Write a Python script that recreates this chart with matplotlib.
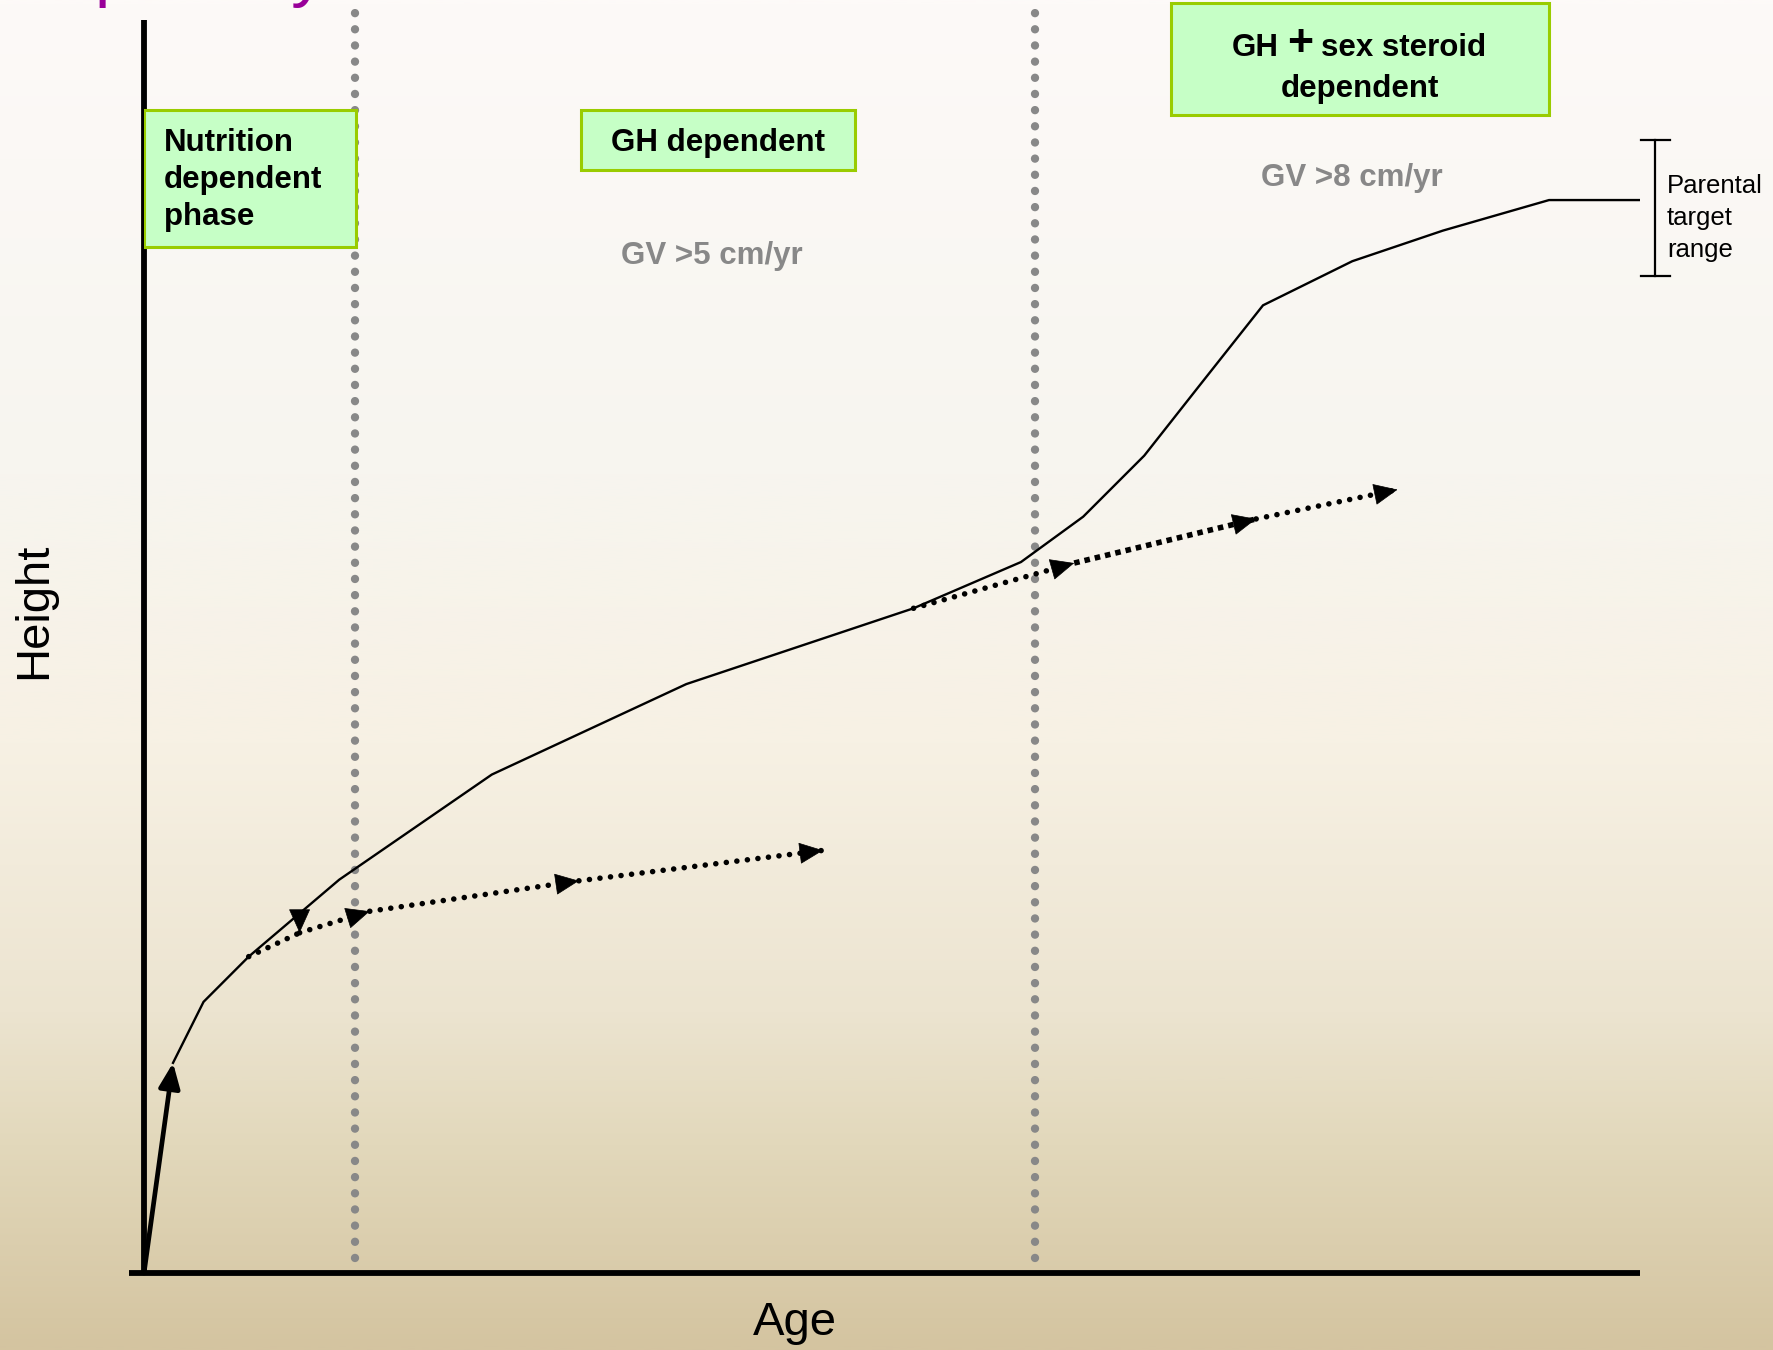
import numpy as np
import matplotlib.pyplot as plt
from matplotlib.colors import LinearSegmentedColormap
from matplotlib.patches import Rectangle

plt.rcParams['font.family'] = ['Liberation Sans', 'DejaVu Sans']

# ---------- Data (schematic units: age 0-100, height 0-100) ----------
curve_age = [1.94, 3.98, 7.0, 13.05, 23.25, 36.25, 51.44, 58.62, 62.78, 66.86,
             70.49, 74.80, 80.77, 86.82, 93.92, 99.97]
curve_height = [16.77, 21.64, 25.25, 31.39, 39.78, 47.0, 53.05, 56.74, 60.36, 65.23,
                70.73, 77.23, 80.75, 83.19, 85.63, 85.63]

# early (infant) velocity, drawn as a solid arrow from the origin
infant_age = [0.0, 1.94]
infant_height = [0.0, 16.77]

# projected growth without the next phase (dotted arrows)
proj1_age = [7.0, 10.40, 15.09, 29.07, 45.39]
proj1_height = [25.25, 27.15, 28.87, 31.30, 33.73]
proj2_age = [51.44, 62.18, 74.34, 83.79]
proj2_height = [53.05, 56.66, 60.18, 62.52]

phase_bounds = [14.1, 59.53]

box_labels = ['Nutrition\ndependent\nphase', 'GH dependent']
velocity_labels = ['GV >5 cm/yr', 'GV >8 cm/yr']
target_range = [79.57, 90.42]

# ---------- Figure ----------
fig = plt.figure(figsize=(17.73, 13.5), dpi=100)

# background gradient
bg = fig.add_axes([0, 0, 1, 1])
stops = [(0.0, '#fdfaf8'), (0.35, '#f7f5ef'), (0.55, '#f7f1e4'),
         (0.75, '#ece4d0'), (0.85, '#e2d8bb'), (1.0, '#d4c4a0')]
cmap = LinearSegmentedColormap.from_list('bg', stops)
bg.imshow(np.linspace(0, 1, 512).reshape(-1, 1), cmap=cmap, aspect='auto',
          extent=[0, 1, 1, 0])
bg.set_xlim(0, 1)
bg.set_ylim(1, 0)
bg.axis('off')

W, H = 1773, 1350
ax = fig.add_axes([144 / W, (H - 1273) / H, 1496 / W, 1253 / H])
ax.patch.set_alpha(0)
ax.set_xlim(0, 100)
ax.set_ylim(0, 100)
ax.axis('off')

# axes lines
ax.plot([0, 0], [0, 100], color='black', lw=4.2, solid_capstyle='butt', clip_on=False)
ax.plot([-1.0, 100], [0, 0], color='black', lw=4.2, solid_capstyle='butt', clip_on=False)

# phase boundaries
for xb in phase_bounds:
    ax.plot([xb, xb], [1.2, 101.6], color='#888888', lw=6,
            linestyle=(0, (0.01, 1.93)), dash_capstyle='round', clip_on=False)

# growth curve
ax.plot(curve_age, curve_height, color='black', lw=1.7, solid_joinstyle='miter')
ax.annotate('', xy=(infant_age[1], infant_height[1]), xytext=(infant_age[0], infant_height[0]),
            arrowprops=dict(arrowstyle='-|>,head_length=0.75,head_width=0.32', lw=3.4,
                            color='black', shrinkA=0, shrinkB=0, mutation_scale=20))


def dotted_arrow(xs, ys, square_segs=(), down_heads=()):
    for i in range(len(xs) - 1):
        if i in square_segs:
            ax.plot(xs[i:i + 2], ys[i:i + 2], color='black', lw=4,
                    linestyle=(0, (1.0, 0.9)), dash_capstyle='butt')
        else:
            ax.plot(xs[i:i + 2], ys[i:i + 2], color='black', lw=4,
                    linestyle=(0, (0.01, 1.9)), dash_capstyle='round')
        tip = (xs[i + 1], ys[i + 1])
        if i + 1 in down_heads:
            tail = (tip[0], tip[1] + 0.05)
        else:
            tail = (tip[0] - 0.02 * (xs[i + 1] - xs[i]), tip[1] - 0.02 * (ys[i + 1] - ys[i]))
        ax.annotate('', xy=tip, xytext=tail,
                    arrowprops=dict(arrowstyle='-|>,head_length=0.8,head_width=0.36',
                                    lw=0.5, color='black', shrinkA=0, shrinkB=0,
                                    mutation_scale=20))


dotted_arrow(proj1_age, proj1_height, down_heads=(1,))
dotted_arrow(proj2_age, proj2_height, square_segs=(1,))

# phase boxes
box_face, box_edge = '#c6ffc6', '#99cc00'
ax.add_patch(Rectangle((0.0, 81.92), 14.18, 10.92, facecolor=box_face,
                       edgecolor=box_edge, lw=2.2, zorder=3))
ax.add_patch(Rectangle((29.21, 88.06), 18.30, 4.78, facecolor=box_face,
                       edgecolor=box_edge, lw=2.2, zorder=3))
ax.add_patch(Rectangle((68.68, 92.39), 25.24, 8.93, facecolor=box_face,
                       edgecolor=box_edge, lw=2.2, zorder=3, clip_on=False))

ax.text(1.34, 87.2, box_labels[0], fontsize=22.5, fontweight='bold', ha='left',
        va='center', linespacing=1.3, zorder=4)
ax.text(38.4, 90.2, box_labels[1], fontsize=22.5, fontweight='bold', ha='center',
        va='center', zorder=4)
ax.text(75.86, 97.73, 'GH', fontsize=22.5, fontweight='bold', ha='right', va='center',
        zorder=4, clip_on=False)
ax.text(77.27, 98.05, '+', fontsize=32, fontweight='bold', ha='center', va='center',
        zorder=4, clip_on=False)
ax.text(78.66, 97.73, 'sex steroid', fontsize=22.5, fontweight='bold', ha='left',
        va='center', zorder=4, clip_on=False)
ax.text(81.28, 94.53, 'dependent', fontsize=22.5, fontweight='bold', ha='center',
        va='center', zorder=4)

# growth velocity notes
ax.text(37.97, 81.13, velocity_labels[0], fontsize=22.5, fontweight='bold',
        color='#888888', ha='center', va='center')
ax.text(80.75, 87.43, velocity_labels[1], fontsize=22.5, fontweight='bold',
        color='#888888', ha='center', va='center')

# parental target range bracket
ax.plot([101.0, 101.0], target_range, color='black', lw=1.6, clip_on=False)
for yb in target_range:
    ax.plot([100.04, 102.0], [yb, yb], color='black', lw=1.6, clip_on=False)
ax.text(101.8, 84.2, 'Parental\ntarget\nrange', fontsize=18.5, ha='left', va='center',
        linespacing=1.42, clip_on=False)

# axis titles
fig.text(34 / W, 1 - 610.6 / H, 'Height', fontsize=34, rotation=90,
         ha='center', va='center')
fig.text(795 / W, 1 - 1323 / H, 'Age', fontsize=34, ha='center', va='center')

# slide title, mostly cut off at the top edge
fig.text(95 / W, 1 + 6 / H, 'puberty', fontsize=50, color='#990099', ha='left',
         va='baseline')

fig.savefig('out.png', dpi=100)
